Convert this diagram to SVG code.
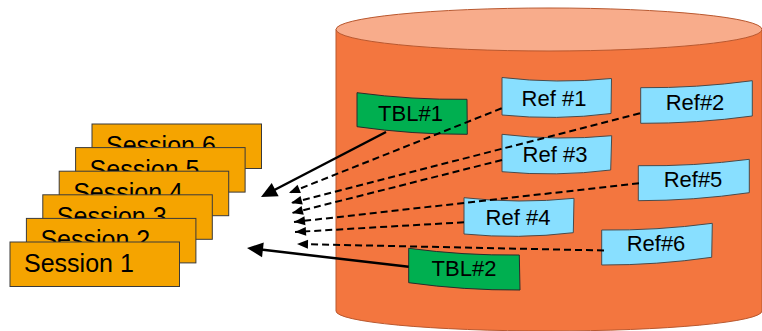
<svg xmlns="http://www.w3.org/2000/svg" width="762" height="331" viewBox="0 0 762 331">
<style>
.sess{fill:#F5A400;stroke:#3a3a3a;stroke-width:1}
.tbl{fill:#00AF50;stroke:#2b2b2b;stroke-width:1}
.ref{fill:#88DFFF;stroke:#4a4a4a;stroke-width:1}
.st{font-family:"Liberation Sans",Arial,sans-serif;font-size:25px;fill:#000}
.lb{font-family:"Liberation Sans",Arial,sans-serif;font-size:22px;fill:#000;text-anchor:middle}
.solid{fill:none;stroke:#000;stroke-width:2.5}
.dash{fill:none;stroke:#000;stroke-width:2;stroke-dasharray:7 4}
</style>
<defs>
<marker id="big" markerUnits="userSpaceOnUse" markerWidth="18" markerHeight="16" refX="2" refY="7.5" orient="auto" overflow="visible"><path d="M0,0 L16,7.5 L0,15 Z" fill="#000"/></marker>
<marker id="small" markerUnits="userSpaceOnUse" markerWidth="12" markerHeight="10" refX="11" refY="4.5" orient="auto" overflow="visible"><path d="M0,0 L11,4.5 L0,9 Z" fill="#000"/></marker>
</defs>
<rect width="762" height="331" fill="#fff"/>
<g id="database">
<path d="M336,29.5 V311 A213,20 0 0 0 762,311 V29.5 Z" fill="#F3763F" stroke="#B9582F" stroke-width="1"/>
<ellipse cx="549" cy="29.5" rx="213" ry="21.5" fill="#F8AC8B" stroke="#B9582F" stroke-width="1"/>
</g>
<g id="session6"><rect class="sess" x="92" y="124" width="169.5" height="44.5"/><text class="st" x="106" y="154">Session 6</text></g>
<g id="session5"><rect class="sess" x="75.6" y="147.6" width="169.5" height="44.5"/><text class="st" x="89.6" y="177.6">Session 5</text></g>
<g id="session4"><rect class="sess" x="59.2" y="171.2" width="169.5" height="44.5"/><text class="st" x="73.2" y="201.2">Session 4</text></g>
<g id="session3"><rect class="sess" x="42.8" y="194.8" width="169.5" height="44.5"/><text class="st" x="56.8" y="224.8">Session 3</text></g>
<g id="session2"><rect class="sess" x="26.4" y="218.4" width="169.5" height="44.5"/><text class="st" x="40.4" y="248.4">Session 2</text></g>
<g id="session1"><rect class="sess" x="10" y="242" width="169.5" height="44.5"/><text class="st" x="24" y="272">Session 1</text></g>
<g id="tbl1"><path class="tbl" d="M357,92.7 Q412,100 467,99.3 L467.3,134.3 Q412,134.5 357,126.7 Z"/><text class="lb" x="410.5" y="121">TBL#1</text></g>
<g id="tbl2"><path class="tbl" d="M408.7,248.3 Q464,255.7 519.3,255 L520,290 Q464,290.4 408.7,282.7 Z"/><text class="lb" x="464" y="276">TBL#2</text></g>
<g id="ref1"><path class="ref" d="M502,77.5 Q557,84 611.5,78.5 L611,113.5 Q556.5,120.5 502,115 Z"/><text class="lb" x="554" y="106">Ref #1</text></g>
<g id="ref2"><path class="ref" d="M640.7,87.7 Q696.5,88.2 752.3,80.7 L752.3,116 Q696.5,123.6 640.7,123.3 Z"/><text class="lb" x="695" y="109.5">Ref#2</text></g>
<g id="ref3"><path class="ref" d="M502,134.3 Q557,141 611.7,135.7 L610.7,170 Q556.3,176.8 502,171.7 Z"/><text class="lb" x="555" y="161.5">Ref #3</text></g>
<g id="ref5"><path class="ref" d="M638.3,165.7 Q693.8,166.5 749.3,159.3 L749.3,192.7 Q693.8,200.7 638.3,200.7 Z"/><text class="lb" x="693" y="187">Ref#5</text></g>
<g id="ref4"><path class="ref" d="M464,197.7 Q519,204 574,198.3 L573.3,232.7 Q518.6,239.3 464,234 Z"/><text class="lb" x="518" y="225">Ref #4</text></g>
<g id="ref6"><path class="ref" d="M601.7,230 Q657,230.7 712.3,223.3 L711.7,257.3 Q656.7,265.2 601.7,265 Z"/><text class="lb" x="656" y="251">Ref#6</text></g>
<g id="connectors">
<line class="solid" x1="386" y1="132" x2="273.4" y2="190.5" marker-end="url(#big)"/>
<line class="solid" x1="408.7" y1="266.7" x2="260.9" y2="249.6" marker-end="url(#big)"/>
<line class="dash" x1="501.7" y1="108.3" x2="289" y2="193" marker-end="url(#small)"/>
<line class="dash" x1="640" y1="113.3" x2="291" y2="203" marker-end="url(#small)"/>
<line class="dash" x1="502" y1="160" x2="292" y2="213" marker-end="url(#small)"/>
<line class="dash" x1="639" y1="183.3" x2="294" y2="222" marker-end="url(#small)"/>
<line class="dash" x1="464" y1="222.3" x2="295" y2="232" marker-end="url(#small)"/>
<line class="dash" x1="604" y1="250.5" x2="297" y2="244" marker-end="url(#small)"/>
</g>
</svg>
